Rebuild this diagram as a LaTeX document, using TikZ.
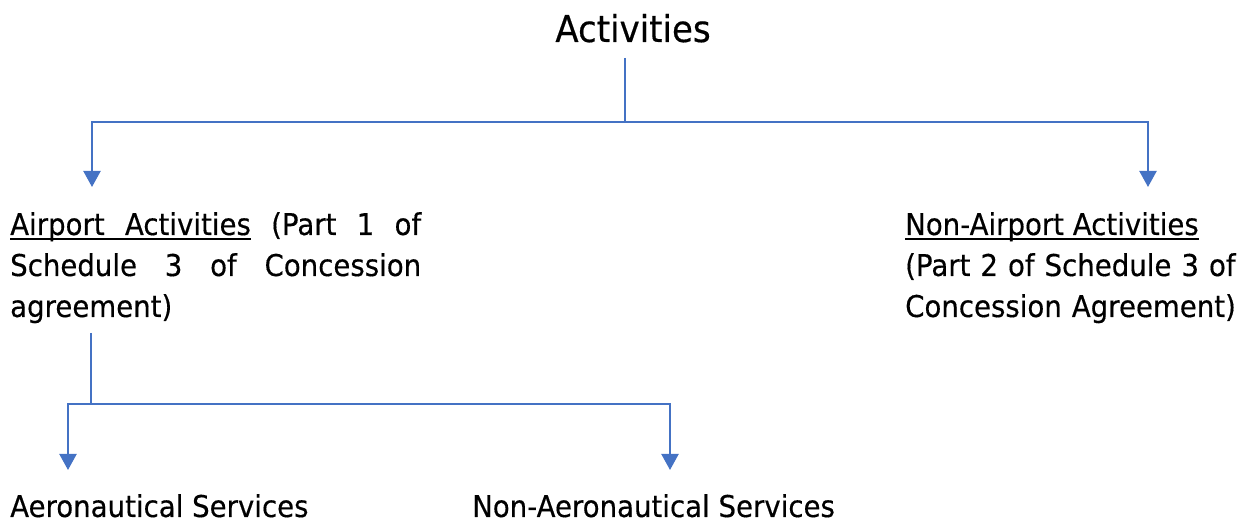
\documentclass[tikz,border=0pt]{standalone}
\usepackage{fontspec}
\setmainfont{DejaVu Sans}[FakeStretch=0.92,FakeBold=0.4]
\usetikzlibrary{arrows.meta}
\definecolor{linkblue}{HTML}{4472C4}
\newcommand{\ulword}[1]{\leavevmode\setbox0\hbox{#1}\rlap{\vrule height -3.5pt depth 5pt width \wd0}\box0\relax}
\newcommand{\ulgap}{\leaders\hrule height -3.5pt depth 5pt\hskip\fontdimen2\font plus\fontdimen3\font minus\fontdimen4\font\relax}
\tikzset{
  conn/.style={draw=linkblue, line width=2.2pt},
  arr/.style={conn, -{Triangle[width=17pt,length=16pt]}},
  txt/.style={inner sep=0pt, font=\fontsize{30pt}{41pt}\selectfont},
}
\begin{document}
\begin{tikzpicture}[x=1pt,y=-1pt]
\useasboundingbox (0,0) rectangle (1251,526);
\node[inner sep=0pt, font=\fontsize{37pt}{44pt}\selectfont, anchor=base] (title) at (633,42) {Activities};
\node[txt, anchor=base west, text width=411pt, align=justify] (air) at (10,235)
  {\ulword{Airport}\ulgap\ulword{Activities} (Part 1 of\linebreak Schedule 3 of Concession\linebreak agreement)};
\node[txt, anchor=base west, text width=340pt, align=left] (nonair) at (905,235)
  {\ulword{Non-Airport}\ulgap\ulword{Activities}\\(Part 2 of Schedule 3 of\\Concession Agreement)};
\node[txt, anchor=base west] (aero) at (10,517) {Aeronautical Services};
\node[txt, anchor=base west] (naero) at (472,517) {Non-Aeronautical Services};
\coordinate (t0) at (625,58);
\coordinate (t1) at (625,122);
\coordinate (l1) at (92,122);
\coordinate (r1) at (1148,122);
\coordinate (la) at (92,187);
\coordinate (ra) at (1148,187);
\coordinate (a0) at (91,333);
\coordinate (a1) at (91,404);
\coordinate (b1) at (68,404);
\coordinate (c1) at (670,404);
\coordinate (ba) at (68,470);
\coordinate (ca) at (670,470);
\draw[conn] (t0) -- (t1);
\draw[arr] (t1) -- (l1) -- (la);
\draw[arr] (t1) -- (r1) -- (ra);
\draw[conn] (a0) -- (a1);
\draw[arr] (a1) -- (b1) -- (ba);
\draw[arr] (a1) -- (c1) -- (ca);
\end{tikzpicture}
\end{document}
